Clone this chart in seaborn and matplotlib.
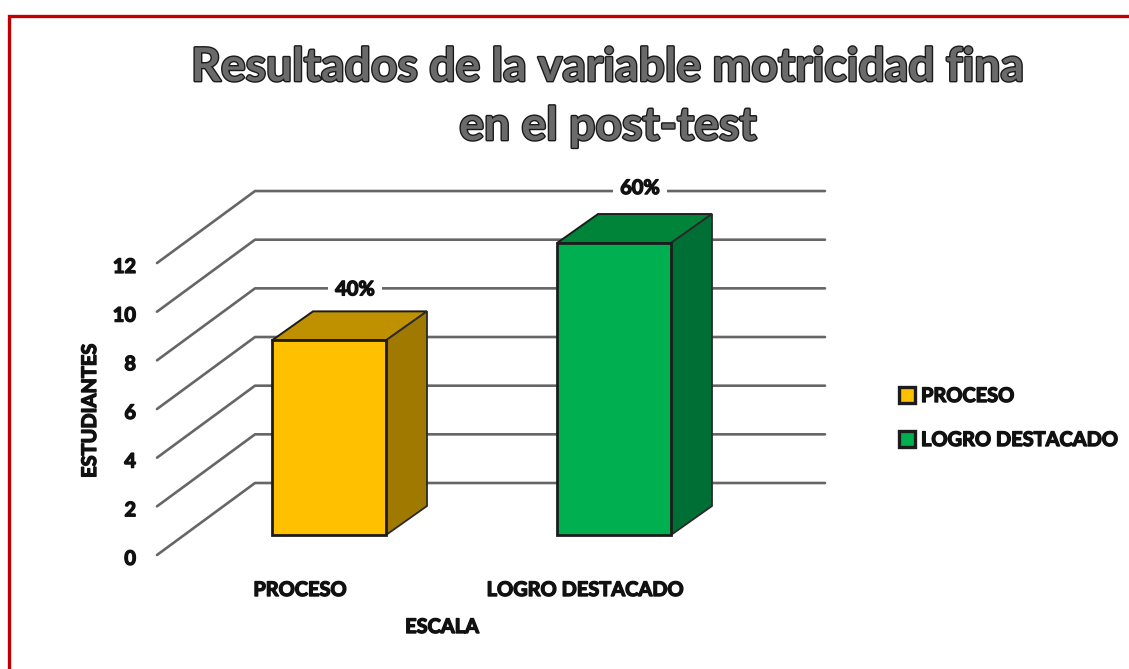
import matplotlib
matplotlib.use("Agg")
import matplotlib.pyplot as plt
import matplotlib.patheffects as pe
import pandas as pd
import seaborn as sns
from matplotlib.lines import Line2D
from matplotlib.patches import Polygon

# Chart data
categories = ["PROCESO", "LOGRO DESTACADO"]
estudiantes = [8, 12]
porcentajes = ["40%", "60%"]
y_ticks = [0, 2, 4, 6, 8, 10, 12]

front_colors = ["#FFC000", "#00B050"]
top_colors = ["#BF9000", "#00843A"]
side_colors = ["#A07A00", "#006F35"]

W, H = 1129, 669
PX_X = 285.0   # pixels per category
PX_Y = 24.33   # pixels per student
X0, Y0 = 329, 535  # pixel of category 0 / value 0

def px(x):
    return (x - X0) / PX_X

def py(y):
    return (Y0 - y) / PX_Y

sns.set_theme(style="white")
plt.rcParams["font.family"] = ["Lato", "DejaVu Sans"]

df = pd.DataFrame({"escala": categories, "estudiantes": estudiantes})

fig = plt.figure(figsize=(W / 100, H / 100), dpi=100)
ax = fig.add_axes([0, 0, 1, 1])

sns.barplot(data=df, x="escala", y="estudiantes", hue="escala", hue_order=categories,
            palette=front_colors, width=0.4, dodge=False, saturation=1,
            edgecolor="#1c1c1c", linewidth=2, legend=False, zorder=5, ax=ax)

ax.set_xlim(px(0), px(W))
ax.set_ylim(py(H), py(0))
ax.axis("off")

# Walls: lines from the front left edge to the back, then along the back wall
bold = [pe.withStroke(linewidth=1.0, foreground="#111111")]
label_size = 14.4
wall_dx = px(255) - px(157)
left_x = px(157)
right_x = px(825)
floor_y = py(555)
wall_dy = py(483) - py(555)
for t in y_ticks:
    ax.plot([left_x, left_x + wall_dx, right_x],
            [floor_y + t, floor_y + t + wall_dy, floor_y + t + wall_dy],
            color="#666666", lw=1.9, zorder=1, solid_capstyle="round")
    ax.text(px(136), floor_y + t - 0.16, str(t), ha="right", va="center", fontsize=label_size,
            fontweight="bold", color="#111111", path_effects=bold)

# Depth of each bar
bar_dx = px(427) - px(386)
bar_dy = py(311) - py(340)
label_gap = [py(289) - py(340), py(188) - py(243)]
for bar, top_c, side_c, pct, gap in zip(ax.patches, top_colors, side_colors, porcentajes, label_gap):
    x0 = bar.get_x()
    x1 = x0 + bar.get_width()
    h = bar.get_height()
    ax.add_patch(Polygon([(x0, h), (x1, h), (x1 + bar_dx, h + bar_dy), (x0 + bar_dx, h + bar_dy)],
                         facecolor=top_c, edgecolor="#1c1c1c", lw=1.4, zorder=4))
    ax.add_patch(Polygon([(x1, 0), (x1 + bar_dx, bar_dy), (x1 + bar_dx, h + bar_dy), (x1, h)],
                         facecolor=side_c, edgecolor="#2a2a2a", lw=1.3, zorder=4))
    ax.text(x0 + bar.get_width() / 2 + px(355) - px(329), h + gap, pct,
            ha="center", va="center", fontsize=label_size, fontweight="bold", color="#111111",
            path_effects=bold, zorder=6,
            bbox=dict(facecolor="white", edgecolor="none", pad=5))

# Category labels and axis titles
for i, cat in enumerate(categories):
    ax.text(i + px(300) - px(329), py(590), cat, ha="center", va="center", fontsize=label_size,
            fontweight="bold", color="#111111", path_effects=bold)
ax.text(px(442), py(627), "ESCALA", ha="center", va="center", fontsize=label_size,
        fontweight="bold", color="#111111", path_effects=bold)
ax.text(px(90), py(411), "ESTUDIANTES", rotation=90, ha="center", va="center", fontsize=label_size,
        fontweight="bold", color="#111111", path_effects=bold)

# Legend
handles = [Line2D([], [], marker="s", ls="", ms=11, mfc=c, mec="#1c1c1c", mew=2.4) for c in front_colors]
leg = ax.legend(handles, categories, loc="upper left", bbox_to_anchor=(881 / W, 1 - 376 / H),
                frameon=False, fontsize=label_size, handlelength=1.6, handletextpad=-0.1,
                labelspacing=1.2, borderpad=0)
for txt in leg.get_texts():
    txt.set_fontweight("bold")
    txt.set_color("#111111")
    txt.set_path_effects(bold)

# Title
for line, yy in zip(["Resultados de la variable motricidad fina", "en el post-test"], [68, 127]):
    ax.text(px(608), py(yy), line, ha="center", va="center", fontsize=33.4, fontweight="bold",
            color="#6a6a6a",
            path_effects=[pe.withStroke(linewidth=2.0, foreground="#1a1a1a")])

# Red frame
fig.add_artist(Line2D([9 / W, 9 / W, 1], [0, 1 - 15.5 / H, 1 - 15.5 / H], color="#C00000", lw=2.4,
                      solid_joinstyle="miter", transform=fig.transFigure))

fig.savefig("out.png", dpi=100)
